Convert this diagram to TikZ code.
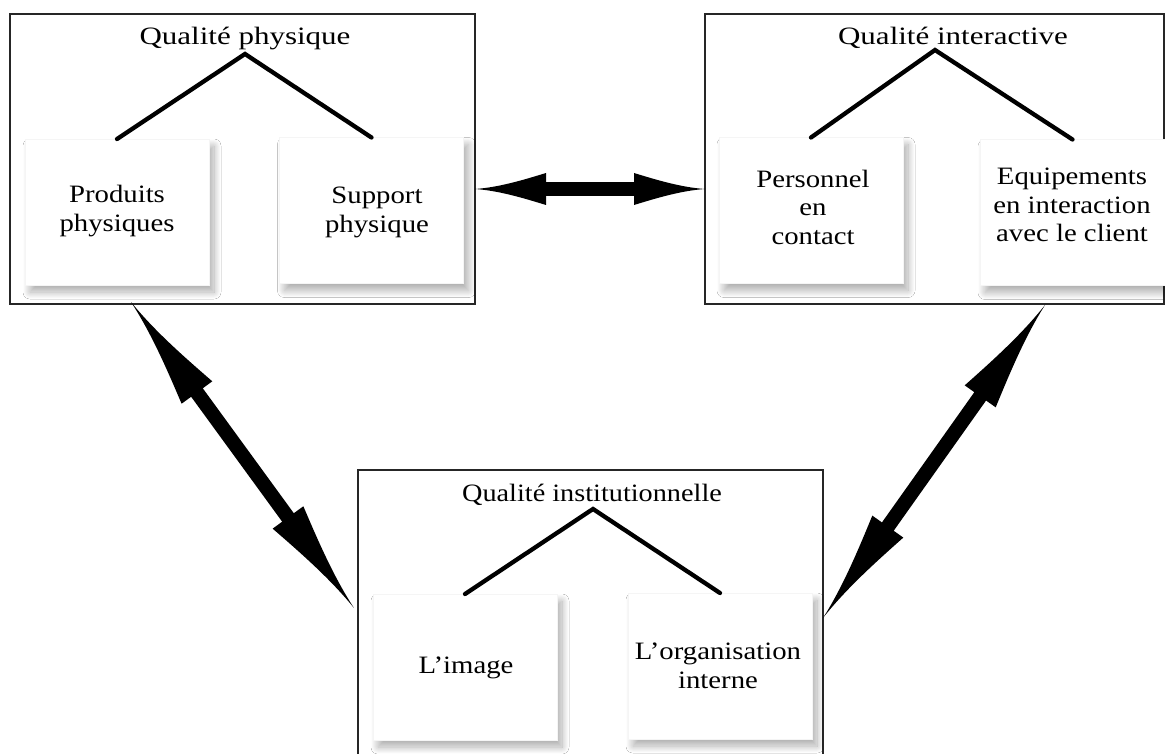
\documentclass[tikz,border=0pt]{standalone}
\usepackage{fontspec}
\setmainfont{Liberation Serif}
\usepackage{graphicx}
\usetikzlibrary{shadows.blur}
\newcommand\sx[2][1.15]{\scalebox{#1}[1]{#2}}
% double arrow outline in local coordinates: #1 length, #2 head length, #3 head half width, #4 shaft half width
\newcommand\dblarrowpath[4]{(0,0) .. controls ({0.33*#2},{0.1*#3}) and ({0.67*#2},{0.55*#3}) .. (#2,#3) -- (#2,#4) -- ({#1-#2},#4) -- ({#1-#2},#3) .. controls ({#1-0.67*#2},{0.55*#3}) and ({#1-0.33*#2},{0.1*#3}) .. (#1,0) .. controls ({#1-0.33*#2},{-0.1*#3}) and ({#1-0.67*#2},{-0.55*#3}) .. ({#1-#2},-#3) -- ({#1-#2},-#4) -- (#2,-#4) -- (#2,-#3) .. controls ({0.67*#2},{-0.55*#3}) and ({0.33*#2},{-0.1*#3}) .. (0,0) -- cycle}
\begin{document}
\begin{tikzpicture}[x=1pt,y=-1pt,
  outerbox/.style={draw=black!85, line width=1.3pt, fill=white, inner sep=0pt, outer sep=0pt},
  innerbox/.style={fill=white, draw=black!4, line width=0.6pt, inner sep=0pt, outer sep=0pt,
    minimum width=184pt, minimum height=146pt,
    blur shadow={shadow xshift=5pt, shadow yshift=-7pt, shadow blur radius=7pt,
      shadow blur steps=14, shadow opacity=32}},
  txt/.style={font=\fontsize{25}{28.5}\selectfont, align=center, inner sep=0pt, text=black},
  branch/.style={line width=4.3pt, draw=black, line cap=round},
  bigarrow/.style={fill=black}]
\useasboundingbox (0,0) rectangle (1165,754);

% outer frames
\node[outerbox, minimum width=465pt, minimum height=290pt] (B1) at (242.5,159) {};
\node[outerbox, minimum width=459pt, minimum height=290pt] (B2) at (934.5,159) {};
\node[outerbox, minimum width=465pt, minimum height=290pt] (B3) at (590.5,615) {};

% inner boxes
\node[innerbox] (pp) at (117,212) {};
\node[innerbox] (sp) at (371.5,210.5) {};
\node[innerbox] (pc) at (811,210.5) {};
\node[innerbox, minimum width=185pt] (eq) at (1072.5,212.5) {};
\node[innerbox] (pi) at (465,667) {};
\node[innerbox] (po) at (720,666) {};

% titles
\node[txt, anchor=base] (t1) at (245,45) {\sx[1.24]{Qualité physique}};
\node[txt, anchor=base] (t2) at (953,45) {\sx[1.24]{Qualité interactive}};
\node[txt, anchor=base] (t3) at (592,501) {\sx[1.13]{Qualité institutionnelle}};

% apexes of the branches
\coordinate (a1) at (245,54);
\coordinate (a2) at (935,50);
\coordinate (a3) at (593,509);

\draw[branch] (pp.north) -- (a1) -- (sp.north);
\draw[branch] (pc.north) -- (a2) -- (eq.north);
\draw[branch] (pi.north) -- (a3) -- (po.north);

% labels
\node[txt] (l1) at (117,211) {\sx{Produits}\\\sx{physiques}};
\node[txt] (l2) at (377,212.5) {\sx{Support}\\\sx{physique}};
\node[txt] (l3) at (813,207) {\sx{Personnel}\\\sx{en}\\\sx{contact}};
\node[txt] (l4) at (1072,205) {\sx{Equipements}\\\sx{en interaction}\\\sx{avec le client}};
\node[txt] (l5) at (466,668) {\sx{L’image}};
\node[txt] (l6) at (718,666) {\sx{L’organisation}\\\sx{interne}};

% double arrows between the frames
\coordinate (h1) at (475,189);
\coordinate (h2) at (705,189);
\coordinate (d1a) at (131,302);
\coordinate (d1b) at (354,608);
\coordinate (d2a) at (1045,305);
\coordinate (d2b) at (823,618);

\fill[bigarrow, shift={(h1)}] \dblarrowpath{230}{71}{16}{6.8};
\fill[bigarrow, shift={(d1a)}, rotate=-53.92] \dblarrowpath{378.6}{112}{19}{7.2};
\fill[bigarrow, shift={(d2a)}, rotate=-125.35] \dblarrowpath{383.7}{112}{19}{7.2};
\end{tikzpicture}
\end{document}
